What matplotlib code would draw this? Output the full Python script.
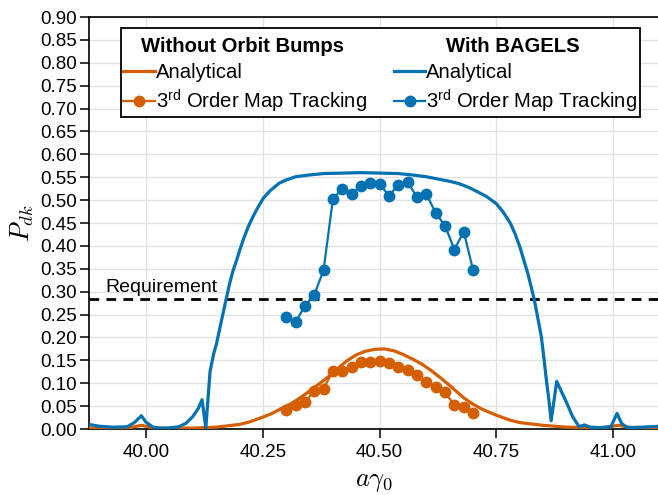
import matplotlib
matplotlib.use('Agg')
import matplotlib.pyplot as plt

plt.rcParams['font.family'] = ['Liberation Sans', 'DejaVu Sans']
plt.rcParams['mathtext.fontset'] = 'custom'
plt.rcParams['mathtext.rm'] = 'Liberation Sans'
plt.rcParams['mathtext.it'] = 'Liberation Sans:italic'

BLUE = '#0072B2'
ORANGE = '#D55E00'

# ---- data ----
x_track = [40.30, 40.32, 40.34, 40.36, 40.38, 40.40, 40.42, 40.44, 40.46, 40.48, 40.50,
           40.52, 40.54, 40.56, 40.58, 40.60, 40.62, 40.64, 40.66, 40.68, 40.70]
p_track_bagels = [0.244, 0.233, 0.269, 0.293, 0.347, 0.502, 0.525, 0.514, 0.531, 0.538, 0.535,
                  0.510, 0.533, 0.539, 0.507, 0.513, 0.472, 0.444, 0.392, 0.431, 0.347]
p_track_nobump = [0.041, 0.052, 0.059, 0.083, 0.088, 0.127, 0.127, 0.135, 0.147, 0.147, 0.149,
                  0.145, 0.135, 0.129, 0.118, 0.102, 0.091, 0.080, 0.052, 0.047, 0.034]

x_an_bagels = [39.878, 39.90, 39.93, 39.96, 39.975, 39.99, 40.00, 40.015, 40.03, 40.05,
               40.07, 40.085, 40.10, 40.112, 40.12, 40.128, 40.137, 40.145, 40.151, 40.158,
               40.165, 40.172, 40.179, 40.186, 40.194, 40.201, 40.208, 40.218, 40.229,
               40.24, 40.251, 40.265, 40.285, 40.30, 40.32, 40.35, 40.38, 40.42, 40.46,
               40.50, 40.54, 40.57, 40.60, 40.63, 40.65, 40.67, 40.69, 40.71, 40.73, 40.75,
               40.765, 40.78, 40.79, 40.80, 40.808, 40.817, 40.824, 40.831, 40.838, 40.846,
               40.851, 40.856, 40.862, 40.867, 40.879, 40.889, 40.899, 40.913, 40.927,
               40.938, 40.95, 40.97, 40.995, 41.008, 41.018, 41.03, 41.06, 41.10]
p_an_bagels = [0.010, 0.006, 0.004, 0.005, 0.014, 0.029, 0.015, 0.004, 0.002, 0.002,
               0.005, 0.012, 0.027, 0.045, 0.064, 0.002, 0.125, 0.165, 0.187, 0.220,
               0.253, 0.286, 0.318, 0.345, 0.369, 0.392, 0.413, 0.440, 0.464,
               0.485, 0.504, 0.520, 0.537, 0.544, 0.551, 0.555, 0.558, 0.559, 0.560,
               0.559, 0.558, 0.555, 0.551, 0.545, 0.541, 0.536, 0.528, 0.518, 0.507, 0.492,
               0.473, 0.449, 0.426, 0.398, 0.371, 0.340, 0.312, 0.282, 0.245, 0.202,
               0.160, 0.114, 0.065, 0.018, 0.104, 0.082, 0.060, 0.027, 0.005,
               0.009, 0.004, 0.003, 0.005, 0.034, 0.012, 0.003, 0.004, 0.006]

x_an_nobump = [39.878, 39.96, 39.99, 40.02, 40.10, 40.15, 40.20, 40.22, 40.25, 40.27, 40.29,
               40.31, 40.33, 40.35, 40.37, 40.39, 40.41, 40.43, 40.45, 40.47, 40.49, 40.51,
               40.53, 40.55, 40.57, 40.59, 40.61, 40.63, 40.65, 40.68, 40.70, 40.72, 40.75,
               40.78, 40.80, 40.85, 40.90, 40.98, 41.01, 41.04, 41.10]
p_an_nobump = [0.002, 0.002, 0.008, 0.002, 0.002, 0.004, 0.010, 0.015, 0.026, 0.034, 0.045,
               0.055, 0.068, 0.083, 0.098, 0.114, 0.132, 0.149, 0.162, 0.170, 0.174, 0.175,
               0.171, 0.163, 0.153, 0.142, 0.128, 0.112, 0.095, 0.068, 0.054, 0.043, 0.030,
               0.019, 0.014, 0.008, 0.004, 0.003, 0.008, 0.003, 0.002]

requirement = 0.283

x_ticks = [40.00, 40.25, 40.50, 40.75, 41.00]
y_ticks = [0.00, 0.05, 0.10, 0.15, 0.20, 0.25, 0.30, 0.35, 0.40, 0.45, 0.50,
           0.55, 0.60, 0.65, 0.70, 0.75, 0.80, 0.85, 0.90]

# ---- figure ----
W, H = 658, 495
fig = plt.figure(figsize=(W / 100, H / 100), dpi=100)
ax = fig.add_axes([89 / W, 1 - 429 / H, (660 - 89) / W, (429 - 17) / H])

ax.set_xlim(39.878, 41.100)
ax.set_ylim(0, 0.90)
ax.set_xticks(x_ticks)
ax.set_xticklabels([f'{v:.2f}' for v in x_ticks])
ax.set_yticks(y_ticks)
ax.set_yticklabels([f'{v:.2f}' for v in y_ticks])
ax.tick_params(direction='out', length=6.5, width=1.1, labelsize=13.5, pad=2,
               color='black')
ax.tick_params(axis='x', pad=4)
ax.grid(True, color='#e2e2e2', linewidth=1.0)
ax.set_axisbelow(True)
for s in ax.spines.values():
    s.set_linewidth(1.2)

l1, = ax.plot(x_an_nobump, p_an_nobump, color=ORANGE, lw=2.3, zorder=3)
l3, = ax.plot(x_an_bagels, p_an_bagels, color=BLUE, lw=2.3, zorder=3)
l2, = ax.plot(x_track, p_track_nobump, color=ORANGE, lw=1.6, marker='o', ms=7.5, zorder=4)
l4, = ax.plot(x_track, p_track_bagels, color=BLUE, lw=1.6, marker='o', ms=7.5, zorder=4)

ax.axhline(requirement, color='black', lw=2.0, ls=(0, (3.5, 2.6)), zorder=2)
ax.text(39.912, requirement + 0.007, 'Requirement', fontsize=14, va='bottom', ha='left')

ax.set_ylabel('$P_{dk}$', fontsize=19, math_fontfamily='cm', labelpad=3)
ax.set_xlabel(r'$a\gamma_0$', fontsize=19, math_fontfamily='cm', labelpad=7)

track_label = '3$^{\\mathrm{rd}}$ Order Map Tracking'
leg = ax.legend([l1, l2, l3, l4], ['Analytical', track_label, 'Analytical', track_label],
                ncol=2, loc='upper left', bbox_to_anchor=(0.0555, 0.9745),
                borderaxespad=0, fontsize=14.6, handlelength=1.55, handletextpad=0.05,
                columnspacing=1.35, labelspacing=0.26, frameon=True, fancybox=False,
                edgecolor='black', framealpha=1, title=' ', title_fontsize=21.5,
                borderpad=0.12)
leg.get_frame().set_linewidth(1.3)

fig.canvas.draw()
r = fig.canvas.get_renderer()
texts = leg.get_texts()
handles = leg.legend_handles
inv = fig.transFigure.inverted()
lb = leg.get_window_extent(r)
first_top = texts[0].get_window_extent(r).y1
hy = (lb.y1 + first_top) / 2 - 1
for cols, lab in (((0, 1), 'Without Orbit Bumps'), ((2, 3), 'With BAGELS')):
    x0 = min(handles[i].get_window_extent(r).x0 for i in cols)
    x1 = max(texts[i].get_window_extent(r).x1 for i in cols)
    cx, cy = inv.transform(((x0 + x1) / 2, hy))
    fig.text(cx, cy, lab, ha='center', va='center', fontsize=14.6, fontweight='bold',
             zorder=10)

fig.savefig('out.png', dpi=100)
